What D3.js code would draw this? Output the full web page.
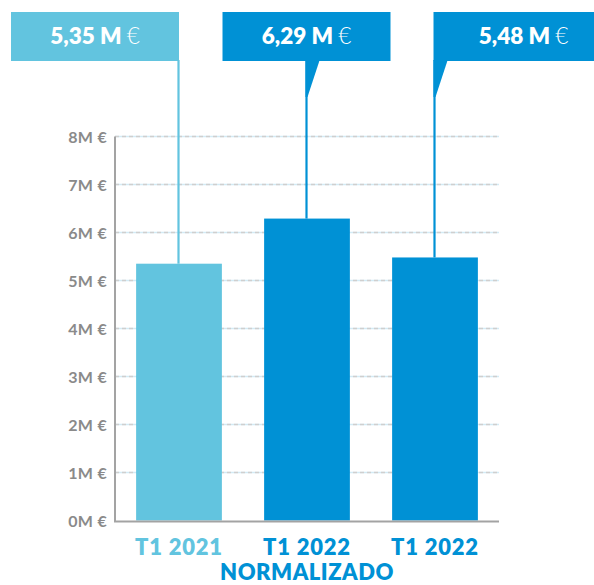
<!DOCTYPE html>
<html><head><meta charset="utf-8">
<script src="https://cdn.jsdelivr.net/npm/d3@7"></script>
<style>body{margin:0;background:#fff}svg{display:block}</style>
</head><body>
<svg id="c" width="594" height="585"></svg>
<script>
const categories = ["T1 2021", "T1 2022", "T1 2022"];
const subLabels = ["", "NORMALIZADO", ""];
const values = [5.35, 6.29, 5.48];
const valueLabels = ["5,35 M", "6,29 M", "5,48 M"];
const colors = ["#62c4df", "#0091d5", "#0091d5"];
const yTicks = [0,1,2,3,4,5,6,7,8];

const svg = d3.select("#c");
const font = "Lato, 'Open Sans', sans-serif";
const x = d3.scaleBand().domain(d3.range(categories.length)).range([115, 499]).paddingInner(0.33).paddingOuter(0.165);
const y = d3.scaleLinear().domain([0, 8]).range([520.5, 136.5]);

// gridlines
const grid = svg.append("g");
yTicks.filter(t => t > 0).forEach(t => {
  grid.append("line").attr("x1", 115).attr("x2", 499).attr("y1", y(t)).attr("y2", y(t))
    .attr("stroke", "#d3ebf5").attr("stroke-width", 1.3);
  grid.append("line").attr("x1", 115).attr("x2", 499).attr("y1", y(t)).attr("y2", y(t))
    .attr("stroke", "#cfcfcf").attr("stroke-width", 1.3).attr("stroke-dasharray", "4,3");
});

// y axis labels
const yAxis = d3.axisLeft(y).tickValues(yTicks).tickSize(0).tickPadding(8).tickFormat(d => d + "M €");
const ya = svg.append("g").attr("transform", "translate(115,0)").call(yAxis);
ya.select(".domain").remove();
ya.selectAll("text").attr("font-family", font).attr("font-weight", 700).attr("font-size", 16)
  .attr("letter-spacing", 0.3).attr("fill", "#8a8a8a").attr("dy", "0.35em");

// bars
svg.append("g").selectAll("rect").data(values).join("rect")
  .attr("x", (d, i) => x(i)).attr("width", x.bandwidth())
  .attr("y", d => y(d)).attr("height", d => y(0) - y(d))
  .attr("fill", (d, i) => colors[i]);

// axis lines
svg.append("line").attr("x1", 115).attr("x2", 115).attr("y1", y(8)).attr("y2", y(0) + 1)
  .attr("stroke", "#a3a3a3").attr("stroke-width", 2);
svg.append("line").attr("x1", 114).attr("x2", 499).attr("y1", y(0) + 1).attr("y2", y(0) + 1)
  .attr("stroke", "#a3a3a3").attr("stroke-width", 2);

// category labels
const cat = svg.append("g");
categories.forEach((c, i) => {
  const cx = x(i) + x.bandwidth() / 2;
  cat.append("text").attr("x", cx).attr("y", 555).attr("text-anchor", "middle")
    .attr("font-family", font).attr("font-weight", 800).attr("font-size", 22).attr("letter-spacing", 0.8)
    .attr("fill", colors[i]).text(c);
  if (subLabels[i]) cat.append("text").attr("x", cx).attr("y", 580).attr("text-anchor", "middle")
    .attr("font-family", font).attr("font-weight", 800).attr("font-size", 22).attr("letter-spacing", 0.5)
    .attr("fill", colors[i]).text(subLabels[i]);
});

// callout boxes
const boxTop = 12, boxBottom = 61, boxW = 168;
const anchors = ["right", "center", "left"];
const ann = svg.append("g");
values.forEach((v, i) => {
  const lx = x(i) + x.bandwidth() / 2 - 0.5;
  let bx, bw = boxW;
  if (anchors[i] === "right") bx = lx - bw + 0.5;
  else if (anchors[i] === "center") bx = lx - bw / 2;
  else { bx = lx - 1; bw = 180; }
  ann.append("rect").attr("x", bx).attr("y", boxTop).attr("width", bw).attr("height", boxBottom - boxTop)
    .attr("fill", colors[i]);
  ann.append("line").attr("x1", lx).attr("x2", lx).attr("y1", boxBottom - 1).attr("y2", y(v))
    .attr("stroke", colors[i]).attr("stroke-width", 2.2);
  if (anchors[i] !== "right") {
    ann.append("path").attr("d", `M${lx - 1},${boxBottom - 0.5} L${lx + 13},${boxBottom - 0.5} L${lx + 1},${boxBottom + 36} L${lx - 1},${boxBottom + 36} Z`)
      .attr("fill", colors[i]);
  }
  const t = ann.append("text").attr("x", bx + bw / 2).attr("y", 44).attr("text-anchor", "middle")
    .attr("font-family", font).attr("font-size", 22.5).attr("fill", "#fff");
  t.append("tspan").attr("font-weight", 800).text(valueLabels[i] + " ");
  t.append("tspan").attr("font-weight", 300).text("€");
});
</script>
</body></html>
